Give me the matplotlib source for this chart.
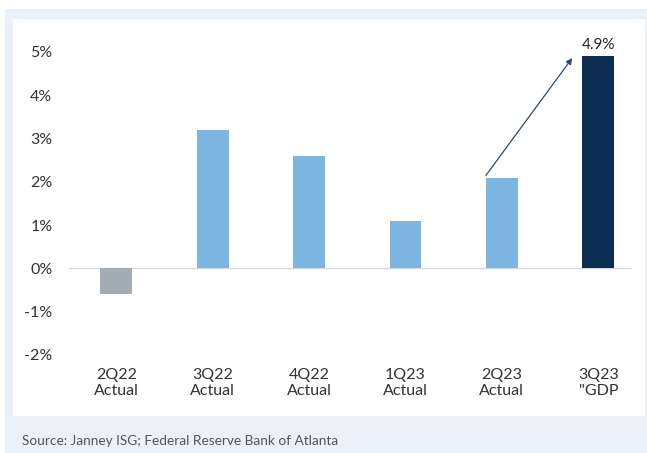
import matplotlib.pyplot as plt
from matplotlib.patches import Rectangle
import numpy as np

plt.rcParams['font.family'] = ['Lato', 'DejaVu Sans']

quarters = ["2Q22\nActual", "3Q22\nActual", "4Q22\nActual", "1Q23\nActual", "2Q23\nActual", "3Q23\n\"GDP"]
growth = [-0.6, 3.2, 2.6, 1.1, 2.1, 4.9]
bar_colors = ["#A4ACB4", "#7DB6E1", "#7DB6E1", "#7DB6E1", "#7DB6E1", "#0A2D51"]
yticks = [-2, -1, 0, 1, 2, 3, 4, 5]

W, H = 647, 453
fig = plt.figure(figsize=(W / 100, H / 100), dpi=100)
fig.patch.set_facecolor("white")

# light blue frame and white panel
fig.patches.append(Rectangle((5 / W, 0), 1 - 5 / W, 444 / H, transform=fig.transFigure,
                             facecolor="#EAF1F8", edgecolor="none", zorder=-2))
fig.patches.append(Rectangle((13 / W, 37 / H), 632 / W, 397 / H, transform=fig.transFigure,
                             facecolor="white", edgecolor="none", zorder=-1))

ax = fig.add_axes([69 / W, (H - 355) / H, (632 - 69) / W, (355 - 39) / H])
ax.set_facecolor("none")
x = np.arange(len(growth))
ax.bar(x, growth, width=0.33, color=bar_colors, zorder=2)
ax.axhline(0, color="#D9D9D9", lw=1, zorder=1)

ax.set_xlim(-0.49, 5.35)
ax.set_ylim(-2, 5.3)
ax.set_yticks(yticks)
ax.set_yticklabels([f"{v}%" for v in yticks], fontsize=11.5, color="#333333")
ax.set_xticks(x)
ax.set_xticklabels(quarters, fontsize=11.5, color="#333333", linespacing=1.25)
ax.tick_params(length=0)
ax.tick_params(axis="y", pad=12)
ax.tick_params(axis="x", pad=9)
for s in ax.spines.values():
    s.set_visible(False)

ax.text(x[-1], growth[-1] + 0.1, f"{growth[-1]}%", ha="center", va="bottom",
        fontsize=11, color="#222222")
ax.annotate("", xy=(4.73, 4.86), xytext=(x[4] - 0.165, growth[4] + 0.05),
            arrowprops=dict(arrowstyle="-|>", color="#2F4A68", lw=0.9,
                            mutation_scale=9, shrinkA=0, shrinkB=0))

fig.text(22 / W, 1 - 441 / H, "Source: Janney ISG; Federal Reserve Bank of Atlanta",
         fontsize=9.8, color="#555555", va="center")

fig.savefig("out.png", dpi=100)
